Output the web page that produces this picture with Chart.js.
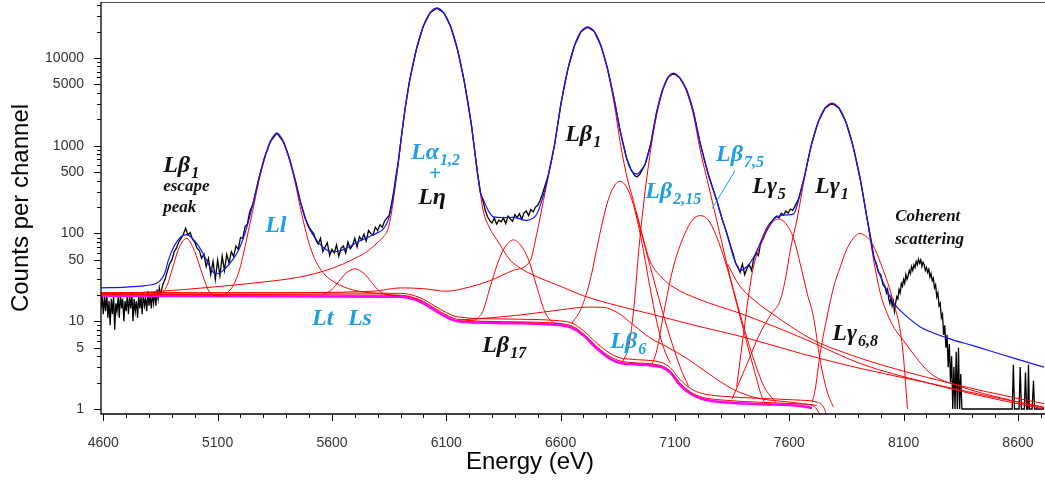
<!DOCTYPE html>
<html>
<head>
<meta charset="utf-8">
<script src="https://cdn.jsdelivr.net/npm/chart.js@4/dist/chart.umd.min.js"></script>
<style>
html, body { margin: 0; padding: 0; background: #fff; }
#wrap { width: 1045px; height: 485px; }
</style>
</head>
<body>
<div id="wrap"><canvas id="spectrum" width="1045" height="485"></canvas></div>
<script>
// tick labels
const xTickLabels = [4600, 5100, 5600, 6100, 6600, 7100, 7600, 8100, 8600];
const yTickLabels = [1, 5, 10, 50, 100, 500, 1000, 5000, 10000];

// measured spectrum, [energy eV, counts]
const measured = [
  [4590,14],[4595,20],[4600,12],[4605,19],[4610,13],[4615,21],[4620,11],[4625,17],[4630,9],[4635,18],
  [4640,12],[4645,20],[4650,8],[4655,16],[4660,13],[4665,19],[4670,11],[4675,21],[4680,14],[4685,18],
  [4690,10],[4695,17],[4700,13],[4705,20],[4710,12],[4715,19],[4720,14],[4725,21],[4730,10],[4735,18],
  [4740,13],[4745,17],[4750,11],[4755,20],[4760,14],[4765,19],[4770,12],[4775,21],[4780,15],[4785,18],
  [4790,13],[4795,22],[4800,15],[4805,20],[4810,14],[4815,21],[4820,16],[4825,22],[4830,15],[4835,23],
  [4840,18],[4845,24],[4850,20],
  [4860,26],[4870,30],[4880,37],[4890,45],[4900,50],[4910,62],[4920,68],[4930,80],[4940,88],[4950,98],
  [4960,115],[4970,96],[4980,102],[4990,86],[5000,80],[5010,68],[5020,64],[5030,52],[5040,58],[5050,42],
  [5060,52],[5070,34],[5080,48],[5090,30],[5100,50],[5110,33],[5120,55],[5130,38],[5140,58],
  [5150,46],[5160,62],[5170,55],[5180,72],[5190,66],[5200,90],[5210,88],[5220,120],[5230,128],[5240,175],
  [5255,220],[5280,420],[5305,730],[5330,1110],[5359,1390],[5388,1110],[5413,730],[5438,420],[5463,225],
  [5484,148],[5500,118],[5510,108],
  [5520,100],[5530,84],[5540,76],[5550,88],[5560,62],[5570,70],[5580,78],[5590,56],[5600,66],[5610,60],
  [5620,74],[5630,55],[5640,68],[5650,72],[5660,60],[5670,80],[5680,67],[5690,73],[5700,88],[5710,70],
  [5720,92],[5730,84],[5740,98],[5750,82],[5760,108],[5770,100],[5780,96],[5790,118],[5800,108],[5810,126],
  [5820,118],[5830,138],[5840,150],[5850,160],[5860,215],[5870,300],[5880,450],[5890,660],
  [5905,1350],[5920,2650],[5939,5400],[5969,12500],[5999,22800],[6029,32700],[6059,37000],[6089,32700],
  [6119,22800],[6149,12500],[6179,5350],[6209,1800],[6235,520],[6250,290],[6262,230],
  [6270,185],[6280,156],[6290,140],[6300,132],[6310,150],[6320,128],[6330,142],[6340,136],[6350,150],
  [6360,130],[6370,158],[6380,146],[6390,138],[6400,164],[6410,152],[6420,168],[6430,145],[6440,172],
  [6450,180],[6460,160],[6470,188],[6480,176],[6490,200],[6500,210],[6510,236],[6520,280],
  [6544,440],[6573,1010],[6602,3060],[6631,7320],[6660,13700],[6689,19950],[6718,22500],[6747,20050],
  [6776,13900],[6805,7600],[6834,3400],[6860,1500],[6890,700],[6910,520],[6925,455],[6934,440],[6945,470],
  [6955,520],[6970,620],[6994,1050],[7019,2350],[7044,4200],[7069,6000],[7094,6700],[7120,6000],[7150,4400],
  [7180,2500],[7211,1050],[7245,480],[7283,237],[7305,150],[7327,100],[7345,70],
  [7355,58],[7365,46],[7375,42],[7385,36],[7395,45],[7405,34],[7415,40],[7425,44],[7435,38],[7445,52],
  [7455,60],[7465,56],[7475,78],[7485,86],[7495,100],[7505,112],[7515,124],[7525,136],[7535,150],[7545,158],
  [7555,150],[7565,170],[7575,162],[7585,180],[7595,170],[7605,190],[7615,184],[7625,205],[7640,245],
  [7665,430],[7696,1010],[7726,1850],[7757,2700],[7787,3050],[7817,2700],[7848,1850],[7878,1010],[7911,410],
  [7940,150],[7960,78],[7970,52],[7980,46],[7990,36],[8000,34],[8010,26],
  [8020,24],[8025,21],[8030,23],[8035,18],[8040,16],[8045,19],[8050,15],[8055,17],[8060,13],[8065,16],
  [8070,19],[8075,18],[8080,23],[8085,21],[8090,27],[8095,25],[8100,30],[8105,27],[8110,34],[8115,30],
  [8120,33],[8125,38],[8130,35],[8135,42],[8140,38],[8145,44],[8150,41],[8155,48],[8160,44],[8165,51],
  [8170,46],[8175,50],[8180,42],[8185,47],[8190,44],[8195,38],[8200,41],[8205,36],[8210,39],[8215,32],
  [8220,35],[8225,29],[8230,31],[8235,24],[8240,26],[8245,19],[8250,21],[8255,15],[8260,16],[8265,11],
  [8270,12],[8275,7],[8280,9],[8285,5],[8290,7],[8295,3],[8300,5.5],[8305,2],[8310,4],[8315,1],
  [8320,3],[8325,1],[8330,4.5],[8335,1],[8340,5],[8345,1],[8350,2.5],[8355,1],
  [8400,1],[8500,1],[8575,1],[8580,3.2],[8585,1],[8605,1],[8610,3],[8615,1],[8628,1],[8633,2.6],
  [8638,1],[8643,1],[8646,3.2],[8650,1],[8662,1],[8668,2.1],[8673,1],[8714,1]
];

// total fit (blue)
const fit = [
  [4590,24],[4700,24.5],[4782,25.5],[4841,27.9],[4870,36],[4884,49],[4910,72],[4940,92],[4965,97],[4990,88],
  [5020,70],[5045,53.6],[5070,40],[5089,35],[5110,35.5],[5132,39.6],[5160,48],[5191,64],[5215,92],[5234,135],
  [5255,220],[5280,420],[5305,730],[5330,1110],[5359,1390],[5388,1110],[5413,730],[5438,420],[5463,225],
  [5484,145],[5505,108],[5530,86],[5555,72],[5599,62],[5640,64],[5672,70],[5720,82],[5759,91],[5803,103],
  [5825,113],[5845,140],[5860,200],[5875,340],[5890,640],[5905,1350],[5920,2650],[5939,5400],[5969,12500],
  [5999,22800],[6029,32700],[6059,37000],[6089,32700],[6119,22800],[6149,12500],[6179,5350],[6209,1800],
  [6235,520],[6248,300],[6263,240],[6285,180],[6306,155],[6350,152],[6394,153],[6452,141],[6480,150],
  [6496,167],[6518,237],[6544,430],[6573,1010],[6602,3060],[6631,7320],[6660,13700],[6689,19950],[6718,22500],
  [6747,20050],[6776,13900],[6805,7600],[6834,3400],[6860,1500],[6890,700],[6910,520],[6934,475],[6950,520],
  [6970,620],[6994,1050],[7019,2350],[7044,4200],[7069,6000],[7094,6700],[7120,6000],[7150,4400],[7180,2500],
  [7211,1050],[7245,480],[7283,237],[7305,150],[7327,100],[7355,55],[7385,38],[7415,42],[7445,54],[7475,80],
  [7503,118],[7530,145],[7560,160],[7590,163],[7619,166],[7640,237],[7665,430],[7696,1010],[7726,1850],
  [7757,2700],[7787,3050],[7817,2700],[7848,1850],[7878,1010],[7911,410],[7940,150],[7970,55],[8000,32],
  [8027,22.5],[8050,17],[8071,14.5],[8100,12.2],[8173,8.6],[8240,7.2],[8319,6.1],[8400,5.3],[8465,4.7],
  [8540,4.1],[8611,3.6],[8714,3.0]
];

// fitted background (magenta)
const background = [
  [4590,19.5],[5900,19.0],[5960,17.8],[6000,16],[6050,13.3],[6100,11.2],[6150,10],[6350,9.5],[6600,9.0],
  [6650,8.4],[6700,6.9],[6750,5.1],[6800,4.0],[6850,3.4],[6900,3.25],[7040,3.0],[7080,2.6],[7120,1.9],
  [7170,1.48],[7220,1.3],[7300,1.2],[7450,1.14],[7650,1.08],[7700,1.03]
];

// fitted lines (red)
const escapePeak = [[4790,19.5],[4850,20.5],[4880,26],[4900,38],[4925,62],[4945,80],[4963,88],[4980,80],[5000,62],[5025,40],[5045,28],[5062,22],[5090,19.6],[5140,19.4]];
const lineLl = [[5100,19.5],[5140,21],[5170,26],[5195,38],[5215,62],[5234,105],[5255,190],[5280,390],[5305,700],[5330,1080],[5359,1358],[5388,1080],[5413,700],[5438,390],[5463,190],[5484,110],[5505,70],[5530,48],[5560,36],[5600,29],[5671,23.6],[5740,21.5],[5800,20.8],[5900,19.5]];
const lineLs = [[5560,20],[5600,23],[5630,28.5],[5660,35],[5700,39.5],[5740,35],[5770,28.5],[5800,23],[5840,20],[5900,19.5]];
const lineLa = [[4590,20.5],[4800,21.5],[5076,24.5],[5300,28],[5461,32],[5600,40],[5700,52],[5760,64],[5802,80],[5825,92],[5845,112],[5860,170],[5875,320],[5890,620],[5905,1320],[5920,2600],[5939,5300],[5969,12400],[5999,22700],[6029,32600],[6059,36500],[6089,32600],[6119,22700],[6149,12400],[6179,5300],[6209,1780],[6239,450],[6261,185],[6290,115],[6321,85],[6379,50],[6440,38],[6510,31],[6600,25],[6700,19.5],[6850,15],[7000,12],[7200,8.8],[7400,6.6],[7650,4.3],[7910,2.9],[8200,2.0],[8500,1.35],[8714,1.05]];
const lineLeta = [[6200,10],[6230,10.5],[6260,13],[6292,24.6],[6330,50],[6360,72],[6394,84.5],[6428,72],[6460,50],[6496,24.6],[6530,13],[6560,10],[6600,9.3]];
const lineLb1 = [[4590,20.8],[5200,21],[5780,22],[5900,24],[6000,23.5],[6100,22],[6200,24.5],[6291,29],[6393,38],[6467,49],[6496,100],[6525,237],[6544,420],[6573,1000],[6602,3045],[6631,7300],[6660,13650],[6689,19860],[6718,22000],[6747,19860],[6776,13650],[6805,7300],[6834,3045],[6863,1000],[6892,420],[6918,237],[6950,110],[6992,42],[7065,8.6],[7123,3.0],[7160,1.8]];
const lineLb6 = [[6150,10.3],[6300,11],[6450,12],[6600,13.5],[6720,14.5],[6786,14.4],[6850,12.5],[6920,9],[6990,6.5],[7065,5.1],[7150,3.8],[7250,2.5],[7350,1.7],[7450,1.35],[7600,1.2],[7720,1.1]];
const lineLb215 = [[6650,9.5],[6690,14],[6730,30],[6757,65],[6783,135],[6808,241],[6834,347],[6860,393],[6886,347],[6912,241],[6937,135],[6963,62],[6990,25],[7020,10],[7050,5],[7080,3.3]];
const lineLb2 = [[6870,3.4],[6900,5.5],[6920,14],[6944,74],[6970,310],[6994,900],[7019,2160],[7044,4030],[7069,5860],[7094,6600],[7120,5900],[7150,4200],[7180,2300],[7211,880],[7245,370],[7283,140],[7327,45],[7385,12],[7440,4],[7490,1.8],[7540,1.2]];
const lineLb75 = [[7000,3.2],[7021,4.7],[7050,12],[7093,41.5],[7140,95],[7176,142],[7211,160],[7246,142],[7280,95],[7327,41.5],[7385,11.2],[7443,3.0],[7486,1.27],[7520,1.1]];
const tailB = [[6930,180],[6960,90],[6992,48],[7040,32],[7093,24.5],[7200,18],[7385,12.3],[7530,8.8],[7678,6.1],[7910,3.3],[8200,2.0],[8500,1.3],[8714,1.0]];
const tailC = [[7330,45],[7380,26],[7440,18],[7550,11],[7700,6.2],[7850,4.3],[8000,3.2],[8200,2.3],[8450,1.6],[8714,1.15]];
const lineLg5 = [[7370,1.8],[7385,3.6],[7400,7.25],[7420,18],[7443,41.5],[7480,80],[7515,125],[7553,146],[7590,125],[7620,86],[7648,45],[7680,20],[7706,11.2],[7735,3.6],[7765,1.6],[7792,1.06]];
const lineLg1 = [[7350,1.3],[7420,3.5],[7472,7.3],[7520,12],[7560,17.3],[7585,32],[7604,64],[7635,150],[7665,408],[7696,994],[7726,1832],[7757,2675],[7787,3000],[7817,2675],[7848,1832],[7878,994],[7911,400],[7940,150],[7970,48],[8000,20],[8028,12.3],[8060,8.3],[8098,6.1],[8150,4.0],[8216,2.56],[8350,1.8],[8509,1.37],[8714,1.03]];
const lineLg68 = [[7700,1.2],[7713,1.64],[7735,4.3],[7765,11.2],[7795,25],[7823,41.5],[7850,65],[7880,88],[7906,100],[7935,93],[7965,75],[8000,45.5],[8049,18.9],[8095,5.1],[8117,1.0]];
const stepA = [[4590,20.2],[5900,19.8],[5960,18.5],[6000,16.8],[6050,14],[6100,11.8],[6150,10.5],[6350,9.9],[6600,9.4],[6650,8.8],[6700,7.2],[6750,5.4],[6800,4.2],[6850,3.6],[6900,3.4],[7040,3.12],[7080,2.7],[7120,2.0],[7170,1.55],[7220,1.36],[7300,1.27],[7450,1.2],[7650,1.14],[7700,1.1],[7720,1.0],[7730,0.9]];
const stepB = [[4590,21.2],[5900,20.8],[5960,19.6],[6000,17.8],[6050,14.9],[6100,12.6],[6150,11.2],[6350,10.6],[6600,10.1],[6650,9.5],[6700,7.8],[6750,5.9],[6800,4.6],[6850,3.9],[6900,3.7],[7040,3.4],[7080,2.95],[7120,2.2],[7170,1.7],[7220,1.5],[7300,1.4],[7450,1.33],[7650,1.26],[7720,1.2],[7750,1.05],[7760,0.9]];

const redLines = [escapePeak, lineLl, lineLs, lineLa, lineLeta, lineLb1, lineLb6, lineLb215, lineLb2, lineLb75,
                  tailB, tailC, lineLg5, lineLg1, lineLg68, stepA, stepB];

// peak labels, placed at [energy, counts]
const CYAN = '#1e9fe4', DARK = '#111';
const peakLabels = [
  { t: 'Lβ', s: '1', e: 4862, c: 507, col: DARK },
  { t: 'escape', e: 4862, c: 308, col: DARK, size: 17 },
  { t: 'peak', e: 4862, c: 178, col: DARK, size: 17 },
  { t: 'Ll', e: 5308, c: 105, col: CYAN },
  { t: 'Lα', s: '1,2', e: 5946, c: 712, col: CYAN },
  { t: '+', e: 6024, c: 410, col: CYAN, size: 21 },
  { t: 'Lη', e: 5977, c: 219, col: DARK },
  { t: 'Lβ', s: '1', e: 6620, c: 1140, col: DARK },
  { t: 'Lβ', s: '7,5', e: 7280, c: 676, col: CYAN },
  { t: 'Lβ', s: '2,15', e: 6970, c: 257, col: CYAN },
  { t: 'Lγ', s: '5', e: 7438, c: 292, col: DARK },
  { t: 'Lγ', s: '1', e: 7713, c: 292, col: DARK },
  { t: 'Coherent', e: 8063, c: 137, col: DARK, size: 17 },
  { t: 'scattering', e: 8063, c: 75, col: DARK, size: 17 },
  { t: 'Lt', e: 5513, c: 9.0, col: CYAN },
  { t: 'Ls', e: 5670, c: 9.0, col: CYAN },
  { t: 'Lβ', s: '17', e: 6257, c: 4.44, col: DARK },
  { t: 'Lβ', s: '6', e: 6817, c: 4.93, col: CYAN },
  { t: 'Lγ', s: '6,8', e: 7788, c: 6.08, col: DARK }
];
const leader = [[7363, 520], [7262, 191]];

const toXY = arr => arr.map(p => ({ x: p[0], y: p[1] }));

const datasets = [
  { data: toXY(fit), borderColor: '#1414ff', borderWidth: 1.2, cubicInterpolationMode: 'monotone', order: 0 },
  ...redLines.map(a => ({ data: toXY(a), borderColor: '#ff0000', borderWidth: 1, cubicInterpolationMode: 'monotone', order: 1 })),
  { data: toXY(background), borderColor: '#ff00ff', borderWidth: 2.5, cubicInterpolationMode: 'monotone', order: 2 },
  { data: toXY(measured), borderColor: '#000000', borderWidth: 1.3, tension: 0, order: 3 }
];

// axis frame, tick marks, titles
const framePlugin = {
  id: 'frame',
  afterDraw(chart) {
    const ctx = chart.ctx, a = chart.chartArea;
    const xs = chart.scales.x, ys = chart.scales.y;
    ctx.save();
    ctx.strokeStyle = '#555';
    ctx.lineWidth = 1;
    ctx.beginPath();
    ctx.moveTo(a.left, a.top + 0.5); ctx.lineTo(a.right + 1, a.top + 0.5);
    ctx.stroke();
    ctx.strokeStyle = '#000';
    ctx.lineWidth = 1.3;
    ctx.beginPath();
    ctx.moveTo(a.left, a.top); ctx.lineTo(a.left, a.bottom);
    ctx.lineTo(a.right + 1, a.bottom);
    ctx.stroke();
    ctx.lineWidth = 1;
    ctx.beginPath();
    for (let e = 4600; e <= 8700; e += 100) {
      const px = Math.round(xs.getPixelForValue(e)) + 0.5;
      const len = (e - 4600) % 500 === 0 ? 7 : 4;
      ctx.moveTo(px, a.bottom); ctx.lineTo(px, a.bottom + len);
    }
    for (let d = 1; d <= 10000; d *= 10) {
      for (let m = 1; m <= 9; m++) {
        const v = m * d;
        if (v > ys.max) break;
        const py = Math.round(ys.getPixelForValue(v)) + 0.5;
        const len = (m === 1 || m === 5) ? 7 : 4;
        ctx.moveTo(a.left - len, py); ctx.lineTo(a.left, py);
      }
    }
    ctx.stroke();

    ctx.fillStyle = '#000';
    ctx.font = '24px "Liberation Sans", Arial, sans-serif';
    ctx.textAlign = 'center';
    ctx.textBaseline = 'alphabetic';
    ctx.fillText('Energy (eV)', 530, 469);
    ctx.translate(28, (a.top + a.bottom) / 2);
    ctx.rotate(-Math.PI / 2);
    ctx.fillText('Counts per channel', 0, 0);
    ctx.restore();
  }
};

const labelPlugin = {
  id: 'peakLabels',
  afterDatasetsDraw(chart) {
    const ctx = chart.ctx, xs = chart.scales.x, ys = chart.scales.y;
    ctx.save();
    ctx.strokeStyle = CYAN;
    ctx.lineWidth = 1;
    ctx.beginPath();
    ctx.moveTo(xs.getPixelForValue(leader[0][0]), ys.getPixelForValue(leader[0][1]));
    ctx.lineTo(xs.getPixelForValue(leader[1][0]), ys.getPixelForValue(leader[1][1]));
    ctx.stroke();
    ctx.textAlign = 'left';
    ctx.textBaseline = 'alphabetic';
    peakLabels.forEach(l => {
      const x = xs.getPixelForValue(l.e), y = ys.getPixelForValue(l.c);
      ctx.fillStyle = l.col;
      ctx.font = 'italic bold ' + (l.size || 24) + 'px "Liberation Serif", "Times New Roman", serif';
      ctx.fillText(l.t, x, y);
      if (l.s) {
        const w = ctx.measureText(l.t).width;
        ctx.font = 'italic bold 16px "Liberation Serif", "Times New Roman", serif';
        ctx.fillText(l.s, x + w + 1, y + 6);
      }
    });
    ctx.restore();
  }
};

new Chart(document.getElementById('spectrum'), {
  type: 'line',
  data: { datasets },
  options: {
    responsive: false,
    animation: false,
    devicePixelRatio: 1,
    layout: { padding: { top: 2, right: 1, left: 0, bottom: 0 } },
    elements: { point: { radius: 0 }, line: { fill: false } },
    plugins: { legend: { display: false }, tooltip: { enabled: false } },
    scales: {
      x: {
        type: 'linear', min: 4590, max: 8714,
        grid: { display: false }, border: { display: false },
        afterBuildTicks: s => { s.ticks = xTickLabels.map(v => ({ value: v })); },
        afterFit: s => { s.height = 71; s.paddingLeft = 0; s.paddingRight = 0; },
        ticks: {
          autoSkip: false, maxRotation: 0, padding: 13, color: '#333',
          font: { family: '"Liberation Sans", Arial, sans-serif', size: 14 },
          callback: v => String(v)
        }
      },
      y: {
        type: 'logarithmic', min: 0.877, max: 43450,
        grid: { display: false }, border: { display: false },
        afterBuildTicks: s => { s.ticks = yTickLabels.map(v => ({ value: v })); },
        afterFit: s => { s.width = 101; s.paddingTop = 0; s.paddingBottom = 0; },
        ticks: {
          autoSkip: false, padding: 9, color: '#333',
          font: { family: '"Liberation Sans", Arial, sans-serif', size: 14 },
          callback: v => String(v)
        }
      }
    }
  },
  plugins: [framePlugin, labelPlugin]
});
</script>
</body>
</html>
